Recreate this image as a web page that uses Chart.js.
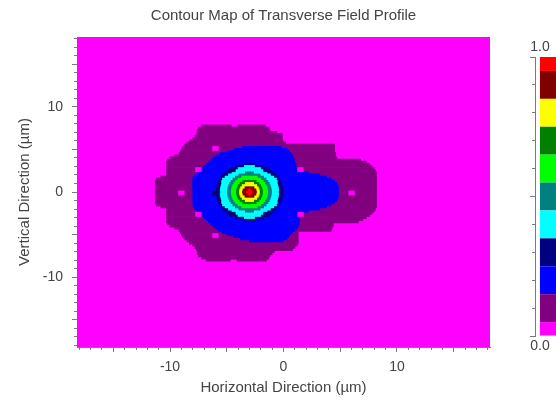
<!DOCTYPE html>
<html>
<head>
<meta charset="utf-8">
<script src="https://cdn.jsdelivr.net/npm/chart.js"></script>
<style>
  html, body { margin: 0; padding: 0; background: #fff; overflow: hidden; }
  #wrap { position: relative; width: 556px; height: 403px; }
  #mapChart { position: absolute; left: 0; top: 0; }
  #barChart { position: absolute; left: 500px; top: 0; }
</style>
</head>
<body>
<div id="wrap">
  <canvas id="mapChart" width="556" height="403"></canvas>
  <canvas id="barChart" width="61" height="403"></canvas>
</div>
<script>
// field level bands of the colour bar (0 = magenta ... 10 = red)
const levelEdges = [0, 0.05, 0.15, 0.25, 0.35, 0.45, 0.55, 0.65, 0.75, 0.85, 0.95, 1.0];
const levelColors = ['#ff00ff', '#800080', '#0000ff', '#000080', '#00ffff', '#008080',
                     '#00ff00', '#008000', '#ffff00', '#800000', '#ff0000'];
const xTickLabels = [-10, 0, 10];
const yTickLabels = [-10, 0, 10];
const barTickLabels = ['0.0', '1.0'];

// contour regions on a 0.25 um row grid, one row per entry: [y, x from, x to] in um
const purpleSpans = [
  [7.75, -7.2, -4.6], [7.75, -4.0, -1.6],
  [7.5, -7.5, -1.3], [7.25, -7.6, -1.2], [7.0, -7.6, -0.6], [6.75, -7.7, -0.1],
  [6.5, -7.8, -0.1], [6.25, -8.0, -0.1], [6.0, -8.3, 0.0], [5.75, -8.5, 0.2],
  [5.5, -8.7, 4.5], [5.25, -8.9, 4.5], [5.0, -9.0, 4.5], [4.75, -9.1, 4.5],
  [4.5, -9.2, 4.6], [4.25, -9.6, 4.6], [4.0, -10.0, 4.7], [3.75, -10.2, 6.8],
  [3.5, -10.3, 7.3], [3.25, -10.3, 7.6], [3.0, -10.3, 7.8], [2.75, -10.3, 8.0],
  [2.5, -10.3, 8.1], [2.25, -10.3, 8.2], [2.0, -10.3, 8.2], [1.75, -10.8, 8.2],
  [1.5, -11.2, 8.2], [1.25, -11.3, 8.2], [1.0, -11.3, 8.2], [0.75, -11.3, 8.2],
  [0.5, -11.3, 8.2], [0.25, -11.3, 8.2], [0.0, -11.3, 8.2], [-0.25, -11.3, 8.2],
  [-0.5, -11.3, 8.2], [-0.75, -11.3, 8.2], [-1.0, -11.3, 8.2], [-1.25, -11.3, 8.2],
  [-1.5, -11.2, 8.2], [-1.75, -10.8, 8.2], [-2.0, -10.3, 8.1], [-2.25, -10.3, 8.0],
  [-2.5, -10.3, 7.8], [-2.75, -10.3, 7.6], [-3.0, -10.3, 7.3], [-3.25, -10.3, 7.0],
  [-3.5, -10.3, 6.6], [-3.75, -10.2, 4.4], [-4.0, -10.0, 4.4], [-4.25, -9.6, 4.3],
  [-4.5, -9.2, 4.2], [-4.75, -9.1, 1.3], [-5.0, -9.0, 1.3], [-5.25, -8.9, 1.3],
  [-5.5, -8.7, 1.3], [-5.75, -8.5, 1.3], [-6.0, -8.3, 1.3], [-6.25, -8.0, 1.2],
  [-6.5, -7.8, 1.0], [-6.75, -7.7, 0.8], [-7.0, -7.6, -0.8], [-7.25, -7.6, -1.0],
  [-7.5, -7.5, -1.2], [-7.75, -7.2, -1.3], [-8.0, -6.8, -4.7], [-8.0, -4.1, -1.5]
];
const blueSpans = [
  [5.25, -3.6, -0.2], [5.0, -4.3, 0.3], [4.75, -5.0, 0.5], [4.5, -5.6, 0.7],
  [4.25, -5.9, 0.8], [4.0, -6.2, 0.9], [3.75, -6.4, 1.0], [3.5, -6.6, 1.0],
  [3.25, -6.8, 1.1], [3.0, -7.0, 1.1], [2.75, -7.2, 1.2], [2.5, -7.4, 1.2],
  [2.25, -7.6, 2.2], [2.0, -7.8, 3.2], [1.75, -7.9, 3.8], [1.5, -8.0, 4.2],
  [1.25, -8.0, 4.5], [1.0, -8.0, 4.7], [0.75, -8.0, 4.8], [0.5, -8.0, 4.85],
  [0.25, -8.0, 4.85], [0.0, -8.0, 4.85], [-0.25, -8.0, 4.85], [-0.5, -8.0, 4.85],
  [-0.75, -8.0, 4.8], [-1.0, -8.0, 4.7], [-1.25, -8.0, 4.5], [-1.5, -8.0, 4.2],
  [-1.75, -7.9, 3.8], [-2.0, -7.8, 3.2], [-2.25, -7.6, 2.2], [-2.5, -7.4, 1.4],
  [-2.75, -7.2, 1.4], [-3.0, -7.0, 1.4], [-3.25, -6.8, 1.4], [-3.5, -6.6, 1.4],
  [-3.75, -6.4, 1.35], [-4.0, -6.2, 1.3], [-4.25, -6.0, 1.2], [-4.5, -5.8, 1.0],
  [-4.75, -5.4, 0.8], [-5.0, -5.0, 0.6], [-5.25, -4.4, 0.45], [-5.5, -3.8, 0.3],
  [-5.75, -3.0, 0.0]
];
const navySpans = [
  [3.25, -3.5, -2.5], [3.0, -4.23, -1.77], [2.75, -4.63, -1.37], [2.5, -4.93, -1.07],
  [2.25, -5.16, -0.84], [2.0, -5.35, -0.65], [1.75, -5.5, -0.5], [1.5, -5.63, -0.37],
  [1.25, -5.73, -0.27], [1.0, -5.81, -0.19], [0.75, -5.87, -0.13], [0.5, -5.92, -0.08],
  [0.25, -5.94, -0.06], [0.0, -5.95, -0.05], [-0.25, -5.94, -0.06], [-0.5, -5.92, -0.08],
  [-0.75, -5.87, -0.13], [-1.0, -5.81, -0.19], [-1.25, -5.73, -0.27], [-1.5, -5.63, -0.37],
  [-1.75, -5.5, -0.5], [-2.0, -5.35, -0.65], [-2.25, -5.16, -0.84], [-2.5, -4.93, -1.07],
  [-2.75, -4.63, -1.37], [-3.0, -4.23, -1.77], [-3.25, -3.5, -2.5]
];
const cyanSpans = [
  [3.0, -3.45, -2.55], [2.75, -4.0, -2.0], [2.5, -4.3, -1.7], [2.25, -4.55, -1.45],
  [2.0, -4.85, -1.15], [1.75, -5.15, -0.85], [1.5, -5.38, -0.62], [1.25, -5.45, -0.55],
  [1.0, -5.45, -0.55], [0.75, -5.5, -0.5], [0.5, -5.55, -0.45], [0.25, -5.57, -0.43],
  [0.0, -5.55, -0.45], [-0.25, -5.57, -0.43], [-0.5, -5.55, -0.45], [-0.75, -5.5, -0.5],
  [-1.0, -5.45, -0.55], [-1.25, -5.45, -0.55], [-1.5, -5.38, -0.62], [-1.75, -5.15, -0.85],
  [-2.0, -4.85, -1.15], [-2.25, -4.55, -1.45], [-2.5, -4.3, -1.7], [-2.75, -4.0, -2.0],
  [-3.0, -3.45, -2.55]
];
const tealSpans = [
  [2.25, -3.36, -2.64], [2.0, -3.94, -2.06], [1.75, -4.25, -1.75], [1.5, -4.47, -1.53],
  [1.25, -4.63, -1.37], [1.0, -4.75, -1.25], [0.75, -4.83, -1.17], [0.5, -4.89, -1.11],
  [0.25, -4.93, -1.07], [0.0, -4.94, -1.06], [-0.25, -4.93, -1.07], [-0.5, -4.89, -1.11],
  [-0.75, -4.83, -1.17], [-1.0, -4.75, -1.25], [-1.25, -4.63, -1.37], [-1.5, -4.47, -1.53],
  [-1.75, -4.25, -1.75], [-2.0, -3.94, -2.06], [-2.25, -3.36, -2.64]
];
const greenSpans = [
  [1.75, -3.69, -2.31], [1.5, -4.01, -1.99], [1.25, -4.22, -1.78], [1.0, -4.37, -1.63],
  [0.75, -4.48, -1.52], [0.5, -4.55, -1.45], [0.25, -4.59, -1.41], [0.0, -4.6, -1.4],
  [-0.25, -4.59, -1.41], [-0.5, -4.55, -1.45], [-0.75, -4.48, -1.52], [-1.0, -4.37, -1.63],
  [-1.25, -4.22, -1.78], [-1.5, -4.01, -1.99], [-1.75, -3.69, -2.31]
];
const darkGreenSpans = [
  [1.25, -3.6, -2.4], [1.0, -3.84, -2.16], [0.75, -3.99, -2.01], [0.5, -4.08, -1.92],
  [0.25, -4.13, -1.87], [0.0, -4.15, -1.85], [-0.25, -4.13, -1.87], [-0.5, -4.08, -1.92],
  [-0.75, -3.99, -2.01], [-1.0, -3.84, -2.16], [-1.25, -3.6, -2.4]
];
const yellowSpans = [
  [1.0, -3.37, -2.63], [0.75, -3.64, -2.36], [0.5, -3.78, -2.22], [0.25, -3.86, -2.14],
  [0.0, -3.88, -2.12], [-0.25, -3.86, -2.14], [-0.5, -3.78, -2.22], [-0.75, -3.64, -2.36],
  [-1.0, -3.37, -2.63]
];
const maroonSpans = [
  [0.5, -3.4, -2.6], [0.25, -3.57, -2.43], [0.0, -3.62, -2.38],
  [-0.25, -3.57, -2.43], [-0.5, -3.4, -2.6]
];
const redSpans = [[0.25, -3.15, -2.85], [0.0, -3.25, -2.75], [-0.25, -3.15, -2.85]];
// air holes: dark spots near the core, light spots in the outer ring
const innerHoleSpans = [
  [0.0, -6.25, -5.75], [-0.25, -6.25, -5.75],
  [2.5, -4.75, -4.25], [2.75, -4.75, -4.25], [-2.5, -4.75, -4.25], [-2.75, -4.75, -4.25],
  [2.5, -1.75, -1.25], [2.75, -1.75, -1.25], [-2.5, -1.75, -1.25], [-2.75, -1.75, -1.25]
];
const outerHoleSpans = [
  [0.0, -9.25, -8.75], [-0.25, -9.25, -8.75],
  [2.5, -7.75, -7.25], [2.75, -7.75, -7.25], [-2.5, -7.75, -7.25], [-2.75, -7.75, -7.25],
  [5.0, -6.25, -5.75], [5.25, -6.25, -5.75], [-5.0, -6.25, -5.75], [-5.25, -6.25, -5.75],
  [2.5, 1.25, 1.75], [2.75, 1.25, 1.75], [-2.5, 1.25, 1.75], [-2.75, 1.25, 1.75],
  [0.0, 5.75, 6.25], [-0.25, 5.75, 6.25]
];

Chart.defaults.font.family = '"Liberation Sans", Arial, sans-serif';
Chart.defaults.color = '#444';
const tickGrey = '#7a7a7a';
const range = 18.2;

// [rows, colour level] from the outside in
const layers = [
  [purpleSpans, 1],
  [blueSpans, 2],
  [navySpans, 3],
  [cyanSpans, 4],
  [tealSpans, 5],
  [greenSpans, 6],
  [darkGreenSpans, 7],
  [yellowSpans, 8],
  [maroonSpans, 9],
  [redSpans, 10],
  [innerHoleSpans, 3],
  [outerHoleSpans, 0]
];

const datasets = layers.map((l, i) => ({
  data: l[0].map(s => ({ y: s[0], x: [s[1], s[2]] })),
  backgroundColor: levelColors[l[1]],
  yAxisID: 'yf',
  order: layers.length - i,
  grouped: false,
  barPercentage: 1,
  categoryPercentage: 1,
  borderWidth: 0
}));

// background of the plot = lowest level
const areaFill = {
  id: 'areaFill',
  beforeDatasetsDraw(chart) {
    const { ctx, chartArea: a } = chart;
    ctx.save();
    ctx.fillStyle = levelColors[0];
    ctx.fillRect(a.left, a.top, a.right - a.left, a.bottom - a.top);
    ctx.restore();
  }
};

const tickFont = { size: 14 };
const titleFont = { size: 15 };

new Chart(document.getElementById('mapChart'), {
  type: 'bar',
  data: { datasets },
  options: {
    responsive: false,
    animation: false,
    indexAxis: 'y',
    layout: { padding: { left: 0, right: 66, top: 0, bottom: 0 } },
    plugins: {
      legend: { display: false },
      tooltip: { enabled: false },
      title: {
        display: true,
        text: 'Contour Map of Transverse Field Profile',
        fullSize: false,
        font: { size: 15, weight: 'normal' },
        padding: { top: 7, bottom: 12 }
      }
    },
    scales: {
      x: {
        type: 'linear', position: 'bottom', min: -range, max: range, weight: 0,
        grid: { drawOnChartArea: false, tickLength: 5, color: tickGrey },
        border: { color: tickGrey },
        ticks: {
          stepSize: 5, includeBounds: false, autoSkip: false, maxRotation: 0,
          padding: 7, font: tickFont,
          callback: v => xTickLabels.includes(v) ? String(v) : ''
        },
        title: { display: true, text: 'Horizontal Direction (µm)', font: titleFont, padding: { top: 0, bottom: 6 } },
        afterFit: s => { s.height = 56; }
      },
      xm: {
        type: 'linear', position: 'bottom', min: -range, max: range, weight: -1,
        grid: { drawOnChartArea: false, tickLength: 3, color: tickGrey },
        border: { display: false },
        ticks: { display: false, stepSize: 1, includeBounds: false },
        afterFit: s => { s.height = 0; }
      },
      y: {
        type: 'linear', position: 'left', min: -range, max: range, weight: 0, offset: false,
        grid: { drawOnChartArea: false, offset: false, tickLength: 5, color: tickGrey },
        border: { color: tickGrey },
        ticks: {
          stepSize: 5, includeBounds: false, autoSkip: false,
          padding: 9, font: tickFont,
          callback: v => yTickLabels.includes(v) ? String(v) : ''
        },
        title: { display: true, text: 'Vertical Direction (µm)', font: titleFont, padding: { top: 16, bottom: 0 } },
        afterFit: s => { s.width = 77; }
      },
      ym: {
        type: 'linear', position: 'left', min: -range, max: range, weight: -1, offset: false,
        grid: { drawOnChartArea: false, offset: false, tickLength: 3, color: tickGrey },
        border: { display: false },
        ticks: { display: false, stepSize: 1, includeBounds: false },
        afterFit: s => { s.width = 0; }
      },
      yf: {
        type: 'linear', display: false, min: -range, max: range, offset: false,
        grid: { offset: false }
      }
    }
  },
  plugins: [areaFill]
});

// colour bar
const barDatasets = levelColors.map((c, i) => ({
  data: [[levelEdges[i], levelEdges[i + 1]]],
  backgroundColor: c,
  grouped: false,
  categoryPercentage: 1,
  barPercentage: 0.62,
  borderWidth: 0
}));

const barLabels = {
  id: 'barLabels',
  afterDraw(chart) {
    const { ctx, chartArea, scales } = chart;
    ctx.save();
    ctx.font = '14px "Liberation Sans", Arial, sans-serif';
    ctx.fillStyle = '#444';
    ctx.textAlign = 'center';
    ctx.textBaseline = 'middle';
    const x = chartArea.left + 5;
    ctx.fillText(barTickLabels[1], x, scales.y.getPixelForValue(1) - 10);
    ctx.fillText(barTickLabels[0], x, scales.y.getPixelForValue(0) + 10);
    ctx.restore();
  }
};

new Chart(document.getElementById('barChart'), {
  type: 'bar',
  data: { labels: [''], datasets: barDatasets },
  options: {
    responsive: false,
    animation: false,
    layout: { padding: { top: 57, bottom: 67, left: 0, right: 0 } },
    plugins: { legend: { display: false }, tooltip: { enabled: false } },
    scales: {
      x: { display: false },
      y: {
        min: 0, max: 1, weight: 0,
        grid: { drawOnChartArea: false, tickLength: 5, color: tickGrey },
        border: { color: tickGrey },
        ticks: { display: false, stepSize: 0.5 },
        afterFit: s => { s.width = 35; }
      },
      ym: {
        type: 'linear', position: 'left', min: 0, max: 1, weight: -1,
        grid: { drawOnChartArea: false, tickLength: 3, color: tickGrey },
        border: { display: false },
        ticks: { display: false, stepSize: 0.1 },
        afterFit: s => { s.width = 0; }
      }
    }
  },
  plugins: [barLabels]
});
</script>
</body>
</html>
